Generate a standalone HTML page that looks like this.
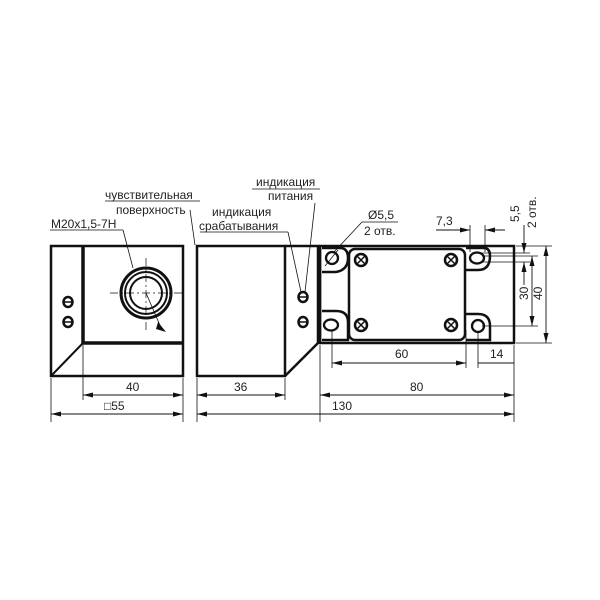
<!DOCTYPE html>
<html><head><meta charset="utf-8"><style>
html,body{margin:0;padding:0;background:#fff;}
svg{display:block;}
text{font-family:"Liberation Sans",sans-serif;fill:#222;}
</style></head><body>
<svg width="600" height="600" viewBox="0 0 600 600" xmlns="http://www.w3.org/2000/svg">
<defs>
<marker id="a" viewBox="0 0 10 6" refX="10" refY="3" markerWidth="10" markerHeight="6" orient="auto-start-reverse" markerUnits="userSpaceOnUse"><path d="M0,0.5 L10,3 L0,5.5z" fill="#111"/></marker>
</defs>
<g fill="none" stroke="#111">
<!-- Left view -->
<rect x="51" y="246" width="132" height="130" stroke-width="2.5"/>
<line x1="83" y1="246" x2="83" y2="344" stroke-width="3.5"/>
<line x1="83" y1="343" x2="183" y2="343" stroke-width="3.5"/>
<line x1="83" y1="343" x2="51" y2="376" stroke-width="2"/>
<circle cx="146" cy="293" r="25" stroke-width="3"/>
<circle cx="146" cy="293" r="21" stroke-width="2"/>
<circle cx="146" cy="293" r="16" stroke-width="2"/>
<g stroke-width="0.7" stroke-dasharray="8,3,2,3"><line x1="110" y1="293" x2="182" y2="293"/><line x1="146" y1="258" x2="146" y2="330"/></g>
<line x1="146" y1="293" x2="162" y2="330" stroke-width="0.8"/>
<line x1="123" y1="230" x2="133" y2="268" stroke-width="0.8"/>
<line x1="190" y1="210" x2="195" y2="245" stroke-width="0.8"/>
<line x1="50" y1="230" x2="123" y2="230" stroke-width="0.8"/>
<line x1="105" y1="201" x2="200" y2="201" stroke-width="0.8"/>
<!-- LEDs left -->
<g stroke-width="2.5"><ellipse cx="68" cy="302" rx="4.5" ry="5"/><ellipse cx="68" cy="322" rx="4.5" ry="5"/></g>
<g stroke-width="1.5"><line x1="64" y1="302" x2="72" y2="302"/><line x1="64" y1="322" x2="72" y2="322"/></g>
<!-- Middle view -->
<rect x="197" y="246" width="88" height="130" stroke-width="2.5"/>
<polyline points="285,246 318,246 318,343 285,376" stroke-width="2.5"/>
<g stroke-width="2.5"><ellipse cx="303" cy="297" rx="4.5" ry="5"/><ellipse cx="303" cy="322" rx="4.5" ry="5"/></g>
<g stroke-width="1.5"><line x1="299" y1="297" x2="307" y2="297"/><line x1="299" y1="322" x2="307" y2="322"/></g>
<line x1="288" y1="232" x2="301" y2="292" stroke-width="0.8"/>
<line x1="315" y1="203" x2="305" y2="292" stroke-width="0.8"/>
<line x1="200" y1="232" x2="288" y2="232" stroke-width="0.8"/>
<line x1="252" y1="189" x2="320" y2="189" stroke-width="0.8"/>
<!-- Right view -->
<rect x="320" y="246" width="194" height="97" stroke-width="2.5"/>
<rect x="349" y="249" width="116" height="91" rx="6" stroke-width="2.5"/>
<line x1="320" y1="248" x2="320" y2="343" stroke-width="2.5"/>
<!-- lugs -->
<path d="M322,248 H340 Q348,248 348,258 Q348,270 336,272 H322" stroke-width="2.5"/>
<path d="M322,311 H336 Q348,311 348,322 V340 H322" stroke-width="2.5"/>
<path d="M466,248 H484 Q490,248 490,256 Q490,270 478,270 H466" stroke-width="2.5"/>
<path d="M466,314 H478 Q490,314 490,326 V340 H466" stroke-width="2.5"/>
<g stroke-width="2.3">
<circle cx="332" cy="258" r="6"/><ellipse cx="331" cy="325" rx="7" ry="5.5"/>
<ellipse cx="477" cy="258" rx="7" ry="5.5"/><circle cx="478" cy="326" r="6"/>
</g>
<g stroke-width="2.5">
<circle cx="361" cy="260" r="6"/><circle cx="451" cy="260" r="6"/><circle cx="361" cy="325" r="6"/><circle cx="451" cy="325" r="6"/>
</g>
<g stroke-width="1.5">
<path d="M357,256 l8,8 M365,256 l-8,8 M447,256 l8,8 M455,256 l-8,8 M357,321 l8,8 M365,321 l-8,8 M447,321 l8,8 M455,321 l-8,8"/>
</g>
<line x1="325" y1="266" x2="338" y2="250" stroke-width="0.8"/>
<polyline points="334,252 362,222 398,222" stroke-width="0.8"/>
<!-- dims -->
<g stroke-width="0.8">
<line x1="51" y1="378" x2="51" y2="422"/><line x1="183" y1="378" x2="183" y2="422"/><line x1="83" y1="345" x2="83" y2="400"/>
<line x1="197" y1="378" x2="197" y2="422"/><line x1="285" y1="378" x2="285" y2="400"/>
<line x1="320" y1="345" x2="320" y2="422"/><line x1="514" y1="345" x2="514" y2="422"/>
<line x1="332" y1="330" x2="332" y2="368"/><line x1="466" y1="330" x2="466" y2="368"/><line x1="478" y1="332" x2="478" y2="368"/>
<line x1="470" y1="225" x2="470" y2="252"/><line x1="485" y1="225" x2="485" y2="252"/>
<line x1="516" y1="246" x2="552" y2="246"/><line x1="516" y1="343" x2="552" y2="343"/>
<line x1="480" y1="253" x2="530" y2="253"/><line x1="480" y1="262" x2="530" y2="262"/>
<line x1="482" y1="256" x2="538" y2="256"/><line x1="482" y1="326" x2="538" y2="326"/>
</g>
<g stroke-width="0.9" marker-start="url(#a)" marker-end="url(#a)">
<line x1="83" y1="395" x2="183" y2="395"/>
<line x1="51" y1="414" x2="183" y2="414"/>
<line x1="197" y1="395" x2="285" y2="395"/>
<line x1="197" y1="414" x2="514" y2="414"/>
<line x1="320" y1="395" x2="514" y2="395"/>
<line x1="332" y1="363" x2="466" y2="363"/>
<line x1="532" y1="256" x2="532" y2="326"/>
<line x1="546" y1="246" x2="546" y2="343"/>
</g>
<g stroke-width="0.9">
<line x1="478" y1="363" x2="514" y2="363"/>
<line x1="436" y1="230" x2="470" y2="230" marker-end="url(#a)"/>
<line x1="505" y1="230" x2="485" y2="230" marker-end="url(#a)"/>
<line x1="524" y1="225" x2="524" y2="253" marker-end="url(#a)"/>
<line x1="524" y1="285" x2="524" y2="262" marker-end="url(#a)"/>
</g>
</g>
<path d="M158,322 l8,10 l-10,-3z" fill="#111"/>
<g font-size="12">
<text x="105" y="199">чувствительная</text>
<text x="116" y="214">поверхность</text>
<text x="51" y="228">M20x1,5-7H</text>
<text x="256" y="186">индикация</text>
<text x="268" y="200">питания</text>
<text x="212" y="216">индикация</text>
<text x="199" y="230">срабатывания</text>
<text x="368" y="219">Ø5,5</text>
<text x="364" y="235">2 отв.</text>
<text x="436" y="225">7,3</text>
<text x="126" y="391">40</text>
<text x="104" y="410">□55</text>
<text x="234" y="391">36</text>
<text x="332" y="410">130</text>
<text x="410" y="391">80</text>
<text x="395" y="358">60</text>
<text x="490" y="358">14</text>
<text transform="translate(519,222) rotate(-90)">5,5</text>
<text transform="translate(536,228) rotate(-90)">2 отв.</text>
<text transform="translate(528,300) rotate(-90)">30</text>
<text transform="translate(542,300) rotate(-90)">40</text>
</g>
</svg>
</body></html>
